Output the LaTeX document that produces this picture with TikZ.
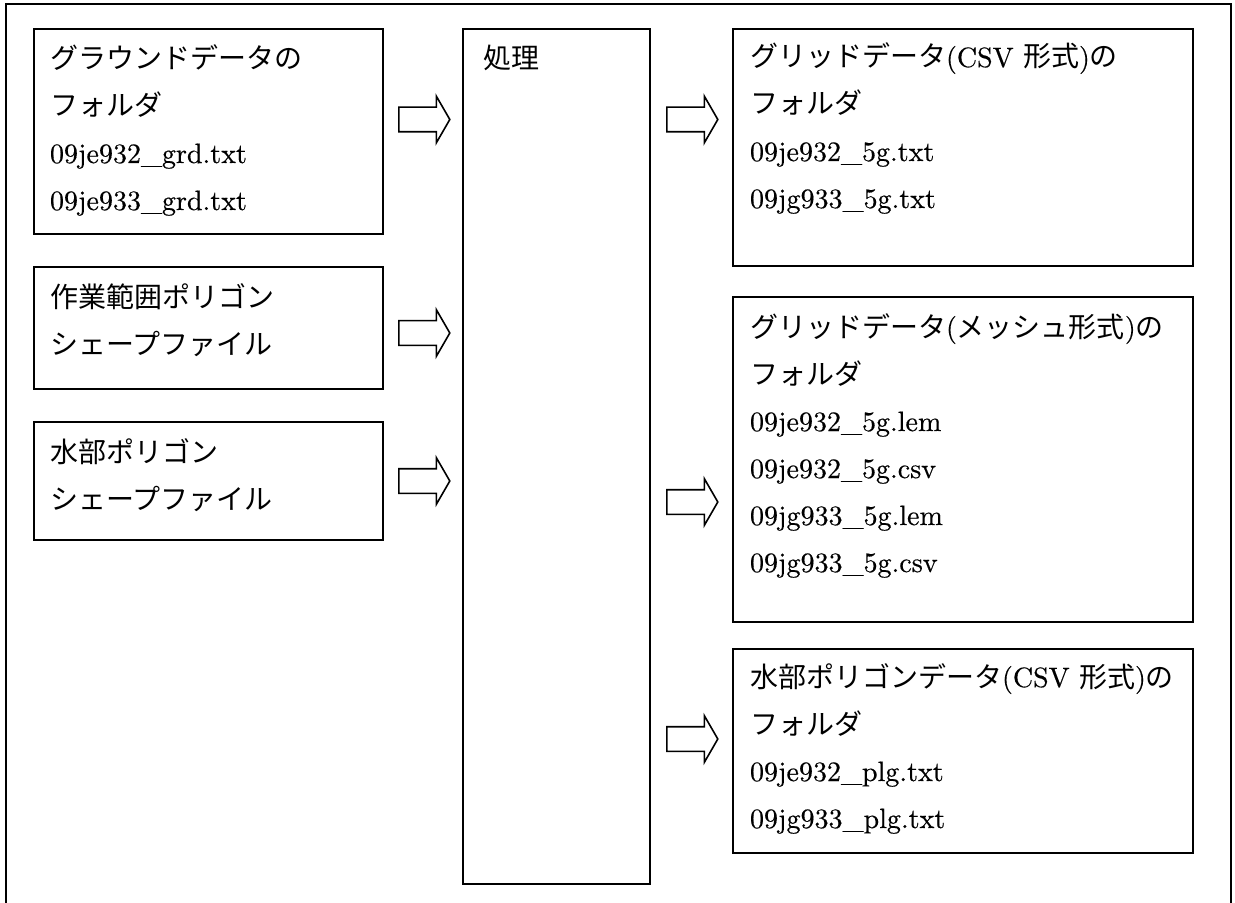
\documentclass[tikz,border=0pt]{standalone}
\usepackage{fontspec}
\setmainfont{lmroman10-regular.otf}[FakeBold=0.4]
\newfontfamily\jp{Noto Sans CJK JP}
\usetikzlibrary{positioning,shapes.arrows}
\newcommand{\firstline}{\rule{0pt}{13pt}}

\begin{document}
\begin{tikzpicture}[
    x=0.5pt, y=-0.5pt,
    box/.style={draw, line width=1pt, inner sep=0pt, outer sep=0pt, anchor=north west},
    txt/.style={anchor=north west, inner sep=0pt, outer sep=0pt, align=left, font=\fontsize{14pt}{23.5pt}\selectfont},
    blockarrow/.style={draw, line width=0.8pt, single arrow, inner xsep=0pt, inner ysep=5.75pt,
        minimum height=25.5pt, single arrow head extend=5.5pt, single arrow tip angle=120,
        single arrow head indent=0pt, anchor=tail}
]
\useasboundingbox (0,0) rectangle (1235,903);
\draw[line width=1pt] (6,903) -- (6,4) -- (1231,4) -- (1231,903);

% input boxes
\node[box, minimum width=174.5pt, minimum height=102.5pt] (ground) at (34,29) {};
\node[box, minimum width=174.5pt, minimum height=61pt, below=16.5pt of ground] (workarea) {};
\node[box, minimum width=174.5pt, minimum height=59pt, below=16.5pt of workarea] (water) {};

% processing
\node[box, minimum width=93.5pt, minimum height=427.5pt, right=40pt of ground.north east, anchor=north west] (proc) {};

% output boxes
\node[box, minimum width=230pt, minimum height=118.5pt, right=41.5pt of proc.north east, anchor=north west] (csvgrid) {};
\node[box, minimum width=230pt, minimum height=162.5pt, below=15.5pt of csvgrid] (meshgrid) {};
\node[box, minimum width=230pt, minimum height=102pt, below=13.5pt of meshgrid] (plgdata) {};

% texts
\node[txt, below right=7pt and 8pt of ground.north west] (ground-text)
    {\firstline{\jp グラウンドデータの}\\{\jp フォルダ}\\09je932\_grd.txt\\09je933\_grd.txt};
\node[txt, below right=7pt and 8pt of workarea.north west] (workarea-text)
    {\firstline{\jp 作業範囲ポリゴン}\\{\jp シェープファイル}};
\node[txt, below right=7pt and 8pt of water.north west] (water-text)
    {\firstline{\jp 水部ポリゴン}\\{\jp シェープファイル}};
\node[txt, below right=7pt and 10pt of proc.north west] (proc-text)
    {\firstline{\jp 処理}};
\node[txt, below right=6pt and 8.5pt of csvgrid.north west] (csvgrid-text)
    {\firstline{\jp グリッドデータ}(CSV {\jp 形式}){\jp の}\\{\jp フォルダ}\\09je932\_5g.txt\\09jg933\_5g.txt};
\node[txt, below right=7pt and 8.5pt of meshgrid.north west] (meshgrid-text)
    {\firstline{\jp グリッドデータ}({\jp メッシュ形式}){\jp の}\\{\jp フォルダ}\\09je932\_5g.lem\\09je932\_5g.csv\\09jg933\_5g.lem\\09jg933\_5g.csv};
\node[txt, below right=6pt and 8.5pt of plgdata.north west] (plgdata-text)
    {\firstline{\jp 水部ポリゴンデータ}(CSV {\jp 形式}){\jp の}\\{\jp フォルダ}\\09je932\_plg.txt\\09jg933\_plg.txt};

% block arrows
\node[blockarrow] (in1) at (398,119.5) {};
\node[blockarrow] (in2) at (398,333) {};
\node[blockarrow] (in3) at (398,481) {};
\node[blockarrow] (out1) at (666,119.5) {};
\node[blockarrow] (out2) at (666,502) {};
\node[blockarrow] (out3) at (666,739) {};
\end{tikzpicture}
\end{document}
